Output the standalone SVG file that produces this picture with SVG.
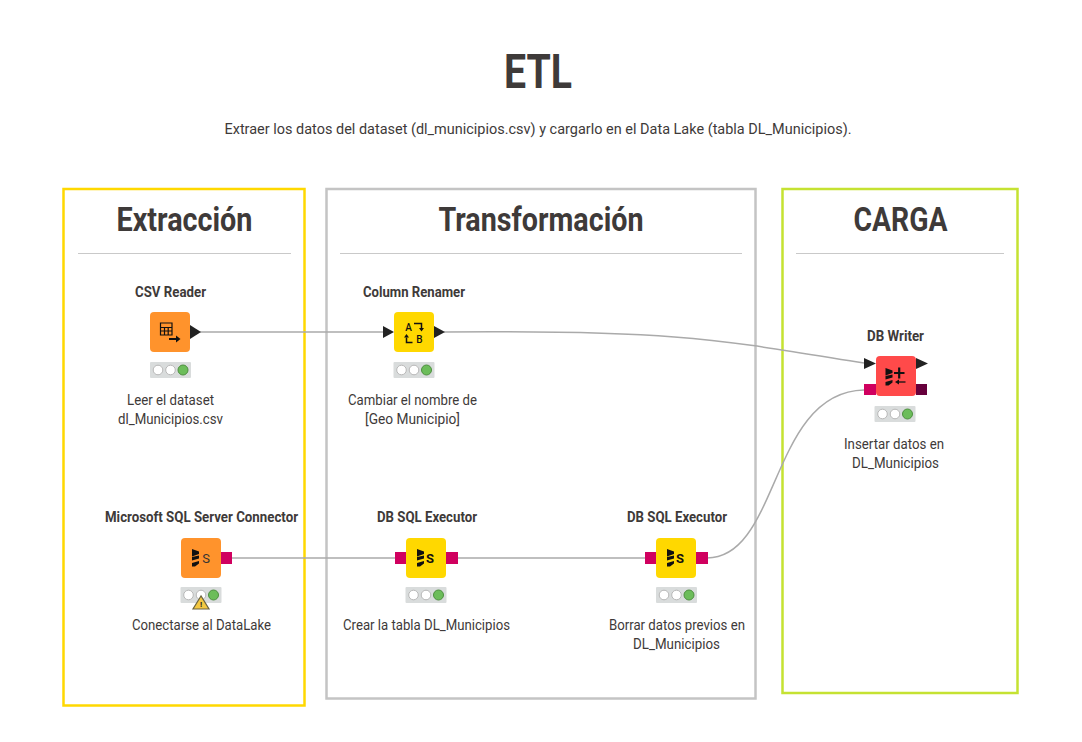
<svg xmlns="http://www.w3.org/2000/svg" width="1082" height="742" viewBox="0 0 1082 742">
<defs>
<style>
text{font-family:Roboto,"Liberation Sans",sans-serif;fill:#3e3a39;text-anchor:middle}
.h{font-weight:700;font-size:33px}
.n{font-weight:700;font-size:14px}
.d{font-size:14px}
.box{fill:none;stroke-width:2.500}
.rule{stroke:#c9c9c9;stroke-width:1}
.c{fill:none;stroke:#aaa;stroke-width:1.500}
.light{fill:#fff;stroke:#b8b8b8;stroke-width:1}
.tl{fill:#d9dcdc}
.go{fill:#6cbd5a;stroke:#4e8f40;stroke-width:1}
.pd{fill:#d0005f}
.tri{fill:#222}
.ic{fill:#111}
.il{fill:none;stroke:#111;stroke-width:1.600}
</style>
<g id="lights"><rect class="tl" x="-20.500" y="0" width="41" height="16" rx="1"/><circle class="light" cx="-12.500" cy="8" r="4.800"/><circle class="light" cx="0" cy="8" r="4.800"/><circle class="go" cx="12.500" cy="8" r="5"/></g>
<g id="dbs"><path class="ic" d="M-3.500-9l7 2.500v2.500l-7 2.500zM-3.500-1l7-1.500v3l-7 2zM-3.500 5l7-2v2.500l-4 3h-3z"/></g>
</defs>
<rect width="1082" height="742" fill="#fff"/>
<text x="538" y="88" textLength="68" lengthAdjust="spacingAndGlyphs" style="font-weight:700;font-size:48px">ETL</text>
<text class="d" x="538" y="134" font-size="15" textLength="627" lengthAdjust="spacingAndGlyphs" style="font-size:15px">Extraer los datos del dataset (dl_municipios.csv) y cargarlo en el Data Lake (tabla DL_Municipios).</text>
<g id="extraccion"><rect class="box" x="63.500" y="189" width="241" height="516.500" stroke="#ffd800"/><text class="h" x="184.500" y="231" textLength="136" lengthAdjust="spacingAndGlyphs">Extracción</text><line class="rule" x1="78" y1="253.500" x2="291" y2="253.500"/></g>
<g id="transformacion"><rect class="box" x="326.500" y="189" width="429" height="509.500" stroke="#c4c4c4"/><text class="h" x="541" y="231" textLength="205" lengthAdjust="spacingAndGlyphs">Transformación</text><line class="rule" x1="340" y1="253.500" x2="742" y2="253.500"/></g>
<g id="carga"><rect class="box" x="782.500" y="189" width="235" height="504" stroke="#c5e232"/><text class="h" x="900.500" y="231" textLength="94" lengthAdjust="spacingAndGlyphs">CARGA</text><line class="rule" x1="796" y1="253.500" x2="1004" y2="253.500"/></g>
<g id="connectors">
<path class="c" d="M200 332H383"/>
<path class="c" d="M444 332C680 330 720 340 864 363"/>
<path class="c" d="M232 558H395"/>
<path class="c" d="M458 558H645"/>
<path class="c" d="M707 558C780 558 770 392 864 390"/>
</g>
<g id="csv-reader"><text class="n" x="170.500" y="297" textLength="71" lengthAdjust="spacingAndGlyphs">CSV Reader</text><rect x="150" y="312" width="40" height="40" rx="4" fill="#ff932c"/><path class="tri" d="M190 325l11 7l-11 7z"/><path class="il" d="M160.500 323h11.500v12h-11.500zM160.500 327.500h11.500M160.500 331h11.500M164.500 327.500v7.500M168.200 327.500v7.500" style="stroke-width:1.200"/><path class="il" d="M169 339h8" style="stroke-width:2"/><path class="ic" d="M176 335.500l4.500 3.500l-4.500 3.500z"/><use href="#lights" x="170.500" y="362"/><text class="d" x="170.500" y="405" textLength="87" lengthAdjust="spacingAndGlyphs">Leer el dataset</text><text class="d" x="170.500" y="424" textLength="105" lengthAdjust="spacingAndGlyphs">dl_Municipios.csv</text></g>
<g id="column-renamer"><text class="n" x="414" y="297" textLength="102" lengthAdjust="spacingAndGlyphs">Column Renamer</text><rect x="394" y="312" width="40" height="40" rx="4" fill="#ffd800"/><path class="tri" d="M383 326l11 6l-11 6zM434 326l11 6l-11 6z"/><text x="408.500" y="331" style="font-size:10px;fill:#111;font-weight:500">A</text><text x="419.500" y="343" style="font-size:10px;fill:#111;font-weight:500">B</text><path class="il" d="M414 323.500h7.500v5M412.500 342.500h-6v-5" style="stroke-width:1.500"/><path class="ic" d="M419 328h5l-2.500 3.500zM404 337.500h5l-2.500-3.500z"/><use href="#lights" x="414" y="362"/><text class="d" x="412.500" y="405" textLength="129" lengthAdjust="spacingAndGlyphs">Cambiar el nombre de</text><text class="d" x="412.500" y="424" textLength="95" lengthAdjust="spacingAndGlyphs">[Geo Municipio]</text></g>
<g id="db-writer"><text class="n" x="895.500" y="341" textLength="57" lengthAdjust="spacingAndGlyphs">DB Writer</text><rect x="876" y="356" width="40" height="40" rx="4" fill="#ff4a4a"/><path class="tri" d="M864 358l12 5.500l-12 5.500zM916 358l12 5.500l-12 5.500z"/><rect class="pd" x="864" y="384" width="12" height="11"/><rect x="916" y="384" width="11" height="11" fill="#66003c"/><use href="#dbs" x="889" y="377"/><path class="il" d="M894 373h10.500M899.200 367.500v11" style="stroke-width:2.200"/><path class="il" d="M898 382h7.500" style="stroke-width:1.300"/><path class="ic" d="M899 379.500l-4 2.500l4 2.500z"/><use href="#lights" x="895" y="406"/><text class="d" x="894" y="449" textLength="100" lengthAdjust="spacingAndGlyphs">Insertar datos en</text><text class="d" x="895.500" y="468" textLength="87" lengthAdjust="spacingAndGlyphs">DL_Municipios</text></g>
<g id="sql-connector"><text class="n" x="201.500" y="522" textLength="193" lengthAdjust="spacingAndGlyphs">Microsoft SQL Server Connector</text><rect x="181" y="538" width="40" height="40" rx="4" fill="#ff932c"/><rect class="pd" x="221" y="552" width="11" height="12"/><use href="#dbs" x="195.500" y="558"/><text x="206" y="563" style="font-size:13px;fill:#333">S</text><use href="#lights" x="201" y="587"/><path d="M201 596l-8 13h16z" fill="#f4c842" stroke="#6b6440" stroke-width="1.200"/><text x="201" y="607" style="font-size:8px;font-weight:700;fill:#222">!</text><text class="d" x="201.500" y="630" textLength="139" lengthAdjust="spacingAndGlyphs">Conectarse al DataLake</text></g>
<g id="sql-executor-1"><text class="n" x="427" y="522" textLength="100" lengthAdjust="spacingAndGlyphs">DB SQL Executor</text><rect x="406" y="538" width="40" height="40" rx="4" fill="#ffd800"/><rect class="pd" x="395" y="552" width="11" height="12"/><rect class="pd" x="446" y="552" width="12" height="12"/><use href="#dbs" x="420.500" y="558"/><text x="430" y="563" style="font-size:13px;font-weight:700;fill:#111">S</text><use href="#lights" x="426" y="587"/><text class="d" x="426.500" y="630" textLength="167" lengthAdjust="spacingAndGlyphs">Crear la tabla DL_Municipios</text></g>
<g id="sql-executor-2"><text class="n" x="677" y="522" textLength="100" lengthAdjust="spacingAndGlyphs">DB SQL Executor</text><rect x="656" y="538" width="40" height="40" rx="4" fill="#ffd800"/><rect class="pd" x="645" y="552" width="11" height="12"/><rect class="pd" x="696" y="552" width="12" height="12"/><use href="#dbs" x="670.500" y="558"/><text x="680" y="563" style="font-size:13px;font-weight:700;fill:#111">S</text><use href="#lights" x="676.500" y="587"/><text class="d" x="677" y="630" textLength="136" lengthAdjust="spacingAndGlyphs">Borrar datos previos en</text><text class="d" x="676.500" y="649" textLength="87" lengthAdjust="spacingAndGlyphs">DL_Municipios</text></g>
</svg>
